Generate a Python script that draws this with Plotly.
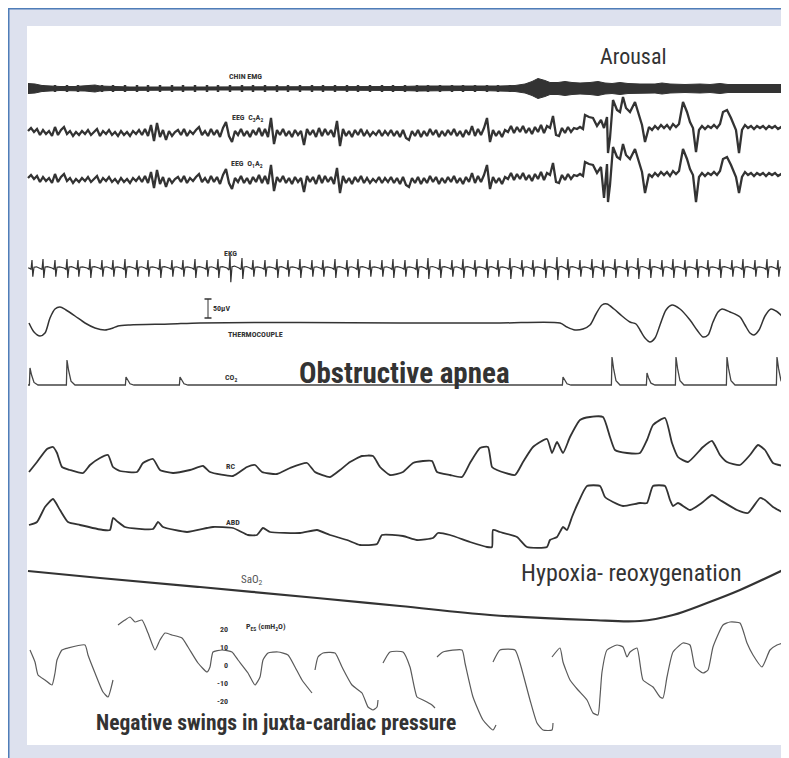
import plotly.graph_objects as go

# ------------------------------------------------------------------
# DATA  (x = time position along the recording, values = deflections
#        of each channel from its own baseline, upward positive)
# ------------------------------------------------------------------

# Chin EMG: envelope half-width along the recording
EMG_T = [28, 35, 42, 50, 60, 75, 85, 95, 100, 110, 130, 200, 300, 350, 400, 420, 440, 460, 480, 500,
         515, 525, 532, 538, 545, 550, 558, 565, 572, 580, 590, 598, 605, 612, 620, 628, 640, 655, 662,
         670, 685, 700, 710, 720, 728, 740, 755, 770, 783]
EMG_HALF = [5, 4.5, 3, 2.5, 2, 2, 2.5, 3.5, 2.5, 2, 1.5, 1.5, 1.5, 1.5, 2, 2.5, 2.5, 2, 2, 2.5,
            3, 4.5, 7, 10, 8, 6, 6, 7, 6, 5.5, 6, 7, 5.5, 5, 6, 5, 4.5, 4.5, 5.5,
            4.5, 4, 4.5, 4, 5, 4, 4, 3.5, 4, 4]

# EEG background activity (sampled every EEG_STEP units from EEG_START)
EEG_START = 28
EEG_STEP = 3
EEG_BG = [2, 5, 1, 4, -2, 3, -1, 2, -3, 6,
          -2, 3, 6, -1, 2, -3, 1, -2, 2, -1,
          3, -2, 1, 4, -3, 2, -1, 3, -2, 1,
          -3, 2, -2, 1, -3, 2, -1, 3, -2, 4,
          -3, 8, -8, 10, -4, 3, -7, 2, -3, 1,
          3, -2, 4, -3, 2, -1, 3, 6, -2, 2,
          -3, 4, -2, 3, -4, 5, 11, -3, -9, 2,
          -2, 4, -3, 2, -4, 3, -2, 5, -3, 4,
          -4, 15, -11, 3, -2, 4, -3, 2, -4, 3,
          -2, 2, -12, 4, -2, 3, -4, 5, -3, 4,
          -2, 3, -4, 12, -13, 4, -3, 2, -4, 3,
          -2, 4, -3, 2, -3, 1, -2, 3, -3, 2,
          -2, 3, -3, 2, -4, 3, -5, -7, 2, -3,
          3, -4, 2, -3, 4, -2, 3, -4, 2, -3,
          3, -2, 4, -3, 2, -4, 3, -2, 7, -3,
          4, -2, 5, 15, -9, 3, -3, 2, -4, 3,
          1, 7, 0, 6, 1, 7, 0, 5, -1, 6,
          1, 8, 0, 7, 5, 17, -2, -3, 5, 0,
          6, 1, 5, 4, 6]

# EEG during the arousal
AROUSAL_T = [583, 585, 589, 593, 597, 601, 604, 607, 608, 610, 613, 617, 620, 623, 626, 630, 635, 642,
             645, 649, 652, 655, 658, 661, 664, 667, 670, 673, 676, 679, 683, 687, 690, 693, 696, 699,
             702, 705, 708, 711, 714, 717, 720, 723, 727, 731, 736, 739, 742, 745, 748, 751, 754, 757,
             760, 763, 766, 769, 772, 775, 778, 781, 783]
AROUSAL_C3 = [4, 18, 16, 15, 7, 13, 5, 16, -20, -5, 33, 23, 21, 36, 25, 21, 31, 8,
              -9, 6, 3, 7, 4, 8, 5, 8, 4, 9, 6, 9, 31, 21, 11, 5, -19, 3,
              7, 4, 7, 5, 8, 5, 9, 21, 23, 15, 3, -20, 3, 8, 5, 7, 4, 7,
              5, 7, 4, 7, 5, 7, 4, 6, 5]
AROUSAL_O1 = [4, 18, 16, 15, 7, 13, -18, 16, -22, -5, 33, 23, 21, 36, 25, 21, 31, 8,
              -13, 6, 3, 7, 4, 8, 5, 8, 4, 9, 6, 9, 31, 21, 11, 5, -22, 3,
              7, 4, 7, 5, 8, 5, 9, 21, 23, 15, 3, -13, 3, 8, 5, 7, 4, 7,
              5, 7, 4, 7, 5, 7, 4, 6, 5]

# EKG: beat times and R-wave amplitudes
EKG_BEATS = [32, 43, 55, 67, 78, 90, 102, 113, 125, 137,
             148, 160, 172, 183, 195, 207, 218, 230, 242, 253,
             265, 277, 288, 300, 312, 323, 335, 347, 358, 370,
             382, 393, 405, 417, 428, 440, 452, 463, 475, 487,
             498, 510, 522, 533, 545, 557, 568, 580, 592, 603,
             615, 627, 638, 650, 662, 673, 685, 697, 708, 720,
             732, 743, 755, 767, 778]
EKG_R = [8, 9, 8, 9, 8, 9, 8, 8, 9, 8,
         8, 9, 8, 8, 9, 8, 9, 13, 10, 8,
         8, 9, 8, 9, 8, 8, 9, 8, 9, 8,
         8, 9, 8, 9, 10, 9, 8, 9, 8, 9,
         8, 10, 8, 8, 9, 11, 9, 8, 9, 8,
         9, 8, 10, 9, 8, 9, 8, 9, 8, 9,
         8, 9, 8, 9, 8]

# Thermocouple (oronasal airflow)
THERMO_T = [29, 34, 40, 45, 50, 55, 60, 66, 75, 85, 95, 105, 113, 118, 130, 170, 200, 300, 400, 500,
            560, 567, 575, 583, 590, 596, 602, 607, 614, 622, 630, 636, 640, 645, 650, 655, 660, 666,
            672, 680, 690, 697, 703, 708, 713, 718, 722, 730, 740, 745, 750, 754, 759, 765, 771, 776, 783]
THERMO_V = [1, -8, -12, -9, 6, 15, 17, 14, 8, 1, -4, -6, -4, -2, -1, 0, 1, 1.5, 1, 1,
            1, -3, -6, -5, -1, 10, 19, 20, 15, 8, 2, 0, -6, -14, -18, -14, -1, 14,
            19, 15, 4, -6, -13, -11, 2, 12, 15, 12, 7, -1, -9, -11, -6, 8, 15, 13, 7]

# End-tidal CO2 peaks
CO2_T = [30, 67, 126, 180, 563, 612, 647, 676, 727, 777]
CO2_H = [17, 25, 8, 8, 8, 28, 12, 28, 28, 28]

# Rib cage (RC) effort
RC_T = [29, 37, 47, 53, 57, 62, 70, 83, 90, 100, 108, 113, 120, 137, 143, 153, 160, 173, 190, 203,
        210, 233, 247, 255, 262, 277, 290, 307, 315, 330, 340, 350, 362, 373, 380, 390, 403, 413, 423,
        432, 437, 450, 462, 470, 480, 488, 492, 497, 515, 523, 533, 547, 552, 557, 563, 570, 580, 590,
        603, 610, 615, 627, 640, 647, 653, 665, 672, 678, 688, 703, 712, 720, 727, 740, 750, 758, 765,
        773, 783]
RC_V = [-2, 8, 21, 23, 17, 3, 0, -3, 5, 12, 15, 3, -1, -2, 7, 11, 0, -3, 0, 4,
        -2, -6, 3, 5, -2, -4, 2, 7, -2, -7, 0, 8, 14, 14, 3, -5, -2, 7, 9,
        9, -2, -5, -7, 7, 22, 23, 3, 0, -5, 8, 23, 31, 17, 28, 17, 33, 50, 53,
        53, 33, 20, 17, 17, 30, 45, 52, 27, 13, 8, 23, 29, 15, 8, 5, 15, 25, 20,
        7, 4]

# Abdominal (ABD) effort
ABD_T = [29, 37, 45, 53, 60, 68, 80, 103, 110, 113, 118, 125, 153, 158, 163, 187, 207, 213, 233, 248,
         257, 263, 270, 300, 317, 330, 347, 360, 377, 382, 403, 417, 433, 438, 450, 470, 487, 492, 493,
         500, 517, 527, 547, 550, 557, 563, 567, 572, 578, 587, 600, 605, 613, 623, 640, 647, 653, 665,
         670, 673, 678, 690, 703, 712, 720, 737, 748, 760, 765, 773, 782]
ABD_V = [0, 3, 18, 26, 15, 3, 0, -5, -5, 7, 3, -2, -4, 3, -2, -7, -3, -2, -3, -10,
         -10, -3, -7, -8, -5, -10, -15, -20, -19, -10, -11, -15, -13, -8, -10, -17, -22, -22, -5,
         -7, -12, -22, -22, -15, -12, -2, -5, 8, 22, 39, 39, 28, 23, 19, 22, 22, 39, 39,
         25, 19, 22, 15, 23, 30, 25, 15, 12, 27, 25, 18, 13]

# Oxygen saturation (SaO2) trend
SAO2_T = [28, 100, 200, 317, 400, 490, 590, 640, 673, 707, 740, 783]
SAO2_V = [0, -7, -16, -27, -35, -44, -49, -50, -44, -32, -19, 1]

# Oesophageal pressure (Pes), None = pen gap
PES_T = [30, 35, 38, 45, 52, 55, 57, 62, 68, 85, 88, 95, 103, 108, 113, None,
         118, 125, 130, 135, 142, 148, 155, 160, 165, 172, 182, 188, 198, 207, 210, 213, 222, 232, 238,
         248, 255, 260, 263, 268, 278, 288, 295, 302, 312, None,
         315, 318, 323, 335, 342, 352, 362, 368, 373, 377, 378, None,
         383, 390, 403, 410, 417, 423, 432, 435, None,
         437, 443, 462, 465, 473, 483, 493, 496, None,
         493, 500, 515, 520, 530, 537, 543, 552, 553, None,
         552, 560, 563, 570, 578, 587, 593, 598, 600, 602, 607, 617, 623, 627, 630, 637, 643, 653,
         660, 663, 667, 673, 683, 690, 695, 703, 708, 713, 723, 730, 740, 747, 753, 762, 770, 777, 783]
PES_V = [15, 3, -10, -15, -20, -8, 5, 15, 17, 20, 10, -8, -27, -32, -15, None,
         40, 45, 48, 43, 45, 32, 15, 25, 32, 30, 27, 18, 2, -7, -2, 13, 15, 13, 5,
         -8, -20, -12, 5, 12, 13, 10, -2, -15, -28, None,
         -5, 8, 12, 12, -2, -20, -28, -42, -45, -42, -35, None,
         2, 13, 13, -2, -32, -35, -40, -43, None,
         8, 13, 15, 2, -32, -55, -65, -60, None,
         3, 15, 15, 2, -35, -58, -65, -65, -58, None,
         8, 17, 3, -15, -25, -35, -48, -50, -32, -7, 15, 20, 18, 8, 13, 17, -15, -22,
         -32, -33, -12, 13, 22, 20, -2, -8, -5, 18, 40, 43, 42, 22, 10, -2, 15, 20, 22]
PES_TICKS = [20, 10, 0, -10, -20]

# ------------------------------------------------------------------
# LAYOUT CONSTANTS (positions / styles)
# The page body adds an 8 px offset, so the figure is 781 x 750.
# ------------------------------------------------------------------
OFF = 8
W, H = 781, 750
ML, MR, MT, MB = 19, 5, 18, 13
X0, X1 = OFF + ML, OFF + W - MR      # chart-unit extent of the panel
Y0, Y1 = OFF + MT, OFF + H - MB
BASE = dict(emg=88.5, c3=133, o1=180, ekg=268, thermo=324, co2=385,
            rc=470, abd=525, sao2=571, pes=665)
PES_SCALE = 1.8  # chart units per cmH2O
INK = "#333333"
LAV = "#dde1ee"
BLUE = "#4f7db8"
NARROW = "Noto Sans Condensed, Liberation Sans Narrow, Roboto Condensed, Roboto, sans-serif"

fig = go.Figure()


def line(x, y, width, color=INK, shape="linear", smoothing=None):
    ln = dict(color=color, width=width, shape=shape)
    if smoothing is not None:
        ln["smoothing"] = smoothing
    fig.add_trace(go.Scatter(x=x, y=y, mode="lines", hoverinfo="skip", showlegend=False, line=ln))


# Chin EMG (filled envelope) + ECG artefact blips
up = [BASE["emg"] - h for h in EMG_HALF]
lo = [BASE["emg"] + h for h in EMG_HALF]
fig.add_trace(go.Scatter(x=EMG_T + EMG_T[::-1], y=up + lo[::-1], mode="lines", fill="toself",
                         fillcolor=INK, line=dict(color=INK, width=1), hoverinfo="skip",
                         showlegend=False))
blips = [t for t in EKG_BEATS if t < 525]
fig.add_trace(go.Scatter(x=blips, y=[BASE["emg"]] * len(blips), mode="markers", hoverinfo="skip",
                         showlegend=False,
                         marker=dict(symbol="line-ns", size=5, line=dict(color=INK, width=2.5))))

# EEG channels
eeg_x = [EEG_START + EEG_STEP * i for i in range(len(EEG_BG))] + AROUSAL_T
line(eeg_x, [BASE["c3"] - v for v in EEG_BG + AROUSAL_C3], 2.3)
line(eeg_x, [BASE["o1"] - v for v in EEG_BG + AROUSAL_O1], 2.3)

# EKG
EKG_DX = [-3, -1, 0, 0.8, 2, 4.5]
EKG_FR = [0, -0.15, 1.0, -1.1, 0.1, 0.15]
ex, ey = [28], [BASE["ekg"]]
for t, r in zip(EKG_BEATS, EKG_R):
    for dx, f in zip(EKG_DX, EKG_FR):
        ex.append(t + dx)
        ey.append(BASE["ekg"] - f * r)
ex.append(783); ey.append(BASE["ekg"])
line(ex, ey, 1.2)

# Thermocouple
line(THERMO_T, [BASE["thermo"] - v for v in THERMO_V], 1.5, shape="spline", smoothing=0.8)

# CO2
CO2_DX = [-0.6, 0, 1.5, 4, 8]
CO2_FR = [0, 1, 0.6, 0.15, 0]
cx, cy = [28], [BASE["co2"]]
for t, h in zip(CO2_T, CO2_H):
    for dx, f in zip(CO2_DX, CO2_FR):
        cx.append(t + dx)
        cy.append(BASE["co2"] - f * h)
cx.append(783); cy.append(BASE["co2"])
line(cx, cy, 1.3, color="#444444")

# RC / ABD
line(RC_T, [BASE["rc"] - v for v in RC_V], 1.8, shape="spline", smoothing=0.5)
line(ABD_T, [BASE["abd"] - v for v in ABD_V], 1.8, shape="spline", smoothing=0.5)

# SaO2
line(SAO2_T, [BASE["sao2"] - v for v in SAO2_V], 2.2, shape="spline")

# Pes
line(PES_T, [None if v is None else BASE["pes"] - v for v in PES_V], 1.2, color="#5a5a5a",
     shape="spline", smoothing=0.5)

# 50 uV calibration bar
fig.add_trace(go.Scatter(x=[208, 208], y=[299, 318], mode="lines+markers", hoverinfo="skip",
                         showlegend=False, line=dict(color=INK, width=1),
                         marker=dict(symbol="line-ew", size=5, line=dict(color=INK, width=1.5))))

# ------------------------------------------------------------------
# Text
# ------------------------------------------------------------------
small = [("CHIN EMG", 245, 76), ("EEG  C<sub>3</sub>A<sub>2</sub>", 247, 118),
         ("EEG  O<sub>1</sub>A<sub>2</sub>", 247, 164), ("EKG", 230, 253), ("50μV", 221, 308),
         ("THERMOCOUPLE", 255, 334), ("CO<sub>2</sub>", 231, 378), ("RC", 230, 466),
         ("ABD", 233, 522), ("P<sub>ES</sub> (cmH<sub>2</sub>O)", 266, 627)]
ann = []
for txt, x, y in small:
    ann.append(dict(x=x, y=y, text="<b>" + txt + "</b>", showarrow=False,
                    xanchor="center", yanchor="middle",
                    font=dict(size=8, color=INK, family=NARROW)))
for v in PES_TICKS:
    ann.append(dict(x=230, y=BASE["pes"] - v * PES_SCALE, text="<b>%d</b>" % v, showarrow=False,
                    xanchor="right", yanchor="middle",
                    font=dict(size=8, color=INK, family=NARROW)))
ann.append(dict(x=252, y=580, text="SaO<sub>2</sub>", showarrow=False,
                xanchor="center", yanchor="middle",
                font=dict(size=11, color="#555555", family=NARROW)))

big = [("Arousal", 633, 56, 22, False), ("Obstructive apnea", 404, 373, 29, True),
       ("Hypoxia- reoxygenation", 631, 573, 24, False),
       ("Negative swings in juxta-cardiac pressure", 276, 722, 21.5, True)]
for txt, x, y, s, b in big:
    ann.append(dict(x=x, y=y, text=("<b>%s</b>" % txt) if b else txt, showarrow=False,
                    xanchor="center", yanchor="middle",
                    font=dict(size=s, color="#333333", family=NARROW)))

# ------------------------------------------------------------------
# Frame: blue rule on the top and left edges of the figure
# ------------------------------------------------------------------


def px(sx):
    return (sx - X0) / (X1 - X0)


def py(sy):
    return (Y1 - sy) / (Y1 - Y0)


shapes = [
    dict(type="line", xref="paper", yref="paper", x0=px(OFF), x1=px(OFF + W), y0=py(OFF + 0.5),
         y1=py(OFF + 0.5), line=dict(color=BLUE, width=2), layer="above"),
    dict(type="line", xref="paper", yref="paper", x0=px(OFF + 0.5), x1=px(OFF + 0.5),
         y0=py(OFF + H), y1=py(OFF), line=dict(color=BLUE, width=2), layer="above"),
]

fig.update_layout(
    width=W, height=H, margin=dict(l=ML, r=MR, t=MT, b=MB),
    paper_bgcolor=LAV, plot_bgcolor="white",
    xaxis=dict(range=[X0, X1], visible=False, fixedrange=True),
    yaxis=dict(range=[Y1, Y0], visible=False, fixedrange=True),
    annotations=ann, shapes=shapes, hovermode=False, showlegend=False,
)

fig.write_html("out.html")
